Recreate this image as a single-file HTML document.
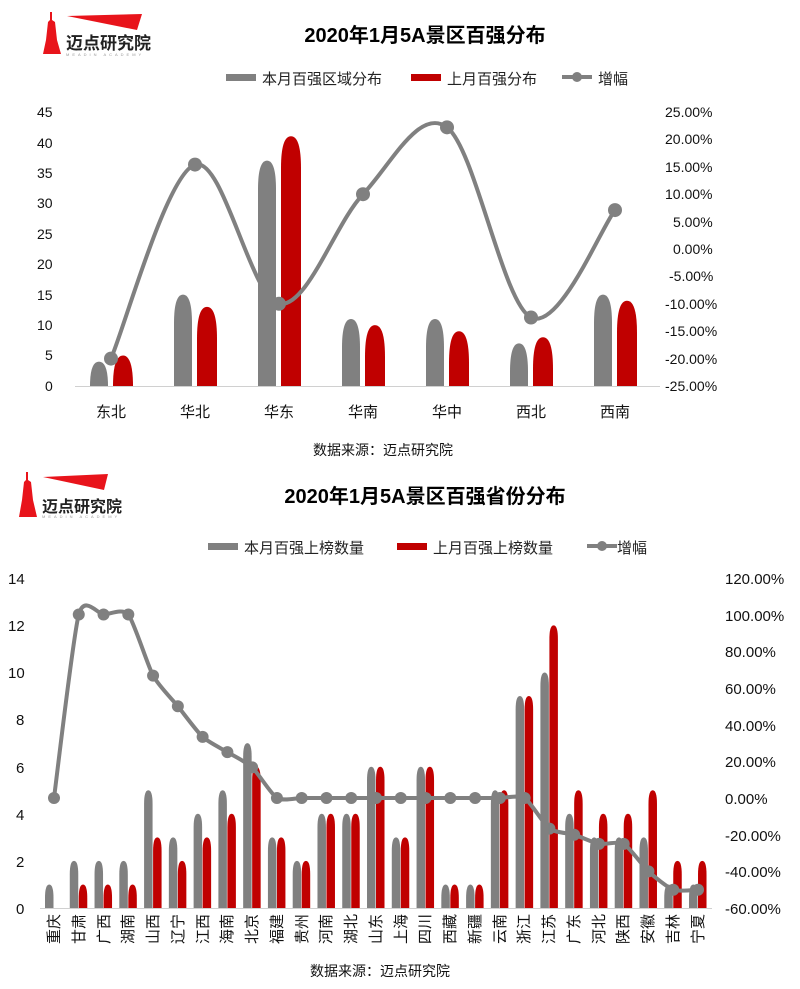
<!DOCTYPE html>
<html><head><meta charset="utf-8">
<style>
body{margin:0;background:#fff;}
svg{display:block;font-family:"Liberation Sans","Noto Sans CJK SC",sans-serif;}
</style></head><body>
<svg id="s" width="800" height="989" viewBox="0 0 800 989" xmlns="http://www.w3.org/2000/svg">
<g>
<polygon points="50,12 52,12 52,20 55,22 57,40 61,54 43,54 46,40 48,22 50,20" fill="#e8141b"/>
<polygon points="67,16 142,14 137,30" fill="#e8141b"/>
<text x="66" y="49" font-size="17" font-weight="bold" fill="#222">迈点研究院</text>
<text x="66" y="56" font-size="4" fill="#999" letter-spacing="3">MEADIN ACADEMY</text>
</g>
<g>
<polygon points="26,472 28,472 28,480 31,482 33,500 37,517 19,517 22,500 24,482 26,480" fill="#e8141b"/>
<polygon points="43,477 108,474 104,490" fill="#e8141b"/>
<text x="42" y="512" font-size="16" font-weight="bold" fill="#222">迈点研究院</text>
<text x="42" y="518" font-size="4" fill="#999" letter-spacing="3">MEADIN ACADEMY</text>
</g>
<text x="425" y="42" font-size="20" font-weight="bold" text-anchor="middle" fill="#000">2020年1月5A景区百强分布</text>
<text x="425" y="503" font-size="20" font-weight="bold" text-anchor="middle" fill="#000">2020年1月5A景区百强省份分布</text>
<rect x="226" y="74" width="30" height="7" fill="#808080"/><text x="262" y="84" font-size="15" fill="#222">本月百强区域分布</text>
<rect x="411" y="74" width="30" height="7" fill="#c00000"/><text x="447" y="84" font-size="15" fill="#222">上月百强分布</text>
<line x1="562" y1="77" x2="592" y2="77" stroke="#808080" stroke-width="4"/><circle cx="577" cy="77" r="5" fill="#808080"/><text x="598" y="84" font-size="15" fill="#222">增幅</text>
<rect x="208" y="543" width="30" height="7" fill="#808080"/><text x="244" y="553" font-size="15" fill="#222">本月百强上榜数量</text>
<rect x="397" y="543" width="30" height="7" fill="#c00000"/><text x="433" y="553" font-size="15" fill="#222">上月百强上榜数量</text>
<line x1="587" y1="546" x2="617" y2="546" stroke="#808080" stroke-width="4"/><circle cx="602" cy="546" r="5" fill="#808080"/><text x="617" y="553" font-size="15" fill="#222">增幅</text>
<g font-size="14" fill="#111">
<text x="37" y="117">45</text><text x="37" y="148">40</text><text x="37" y="178">35</text><text x="37" y="208">30</text><text x="37" y="239">25</text><text x="37" y="269">20</text><text x="37" y="300">15</text><text x="37" y="330">10</text><text x="45" y="360">5</text><text x="45" y="391">0</text>
<text x="665" y="117">25.00%</text><text x="665" y="144">20.00%</text><text x="665" y="172">15.00%</text><text x="665" y="199">10.00%</text><text x="673" y="227">5.00%</text><text x="673" y="254">0.00%</text><text x="669" y="281">-5.00%</text><text x="665" y="309">-10.00%</text><text x="665" y="336">-15.00%</text><text x="665" y="364">-20.00%</text><text x="665" y="391">-25.00%</text>
</g>
<g font-size="15" fill="#111" text-anchor="middle">
<text x="111" y="417">东北</text><text x="195" y="417">华北</text><text x="279" y="417">华东</text><text x="363" y="417">华南</text><text x="447" y="417">华中</text><text x="531" y="417">西北</text><text x="615" y="417">西南</text>
</g>
<text x="383" y="455" font-size="14" fill="#111" text-anchor="middle">数据来源：迈点研究院</text>
<line x1="75" y1="386.5" x2="660" y2="386.5" stroke="#d0d0d0" stroke-width="1"/>
<g font-size="15" fill="#111">
<text x="8" y="584">14</text><text x="8" y="631">12</text><text x="8" y="678">10</text><text x="16" y="725">8</text><text x="16" y="773">6</text><text x="16" y="820">4</text><text x="16" y="867">2</text><text x="16" y="914">0</text>
<text x="725" y="584">120.00%</text><text x="725" y="621">100.00%</text><text x="725" y="657">80.00%</text><text x="725" y="694">60.00%</text><text x="725" y="731">40.00%</text><text x="725" y="767">20.00%</text><text x="725" y="804">0.00%</text><text x="725" y="841">-20.00%</text><text x="725" y="877">-40.00%</text><text x="725" y="914">-60.00%</text>
</g>
<g font-size="15" fill="#111" text-anchor="end">
<text transform="translate(59,914) rotate(-90)">重庆</text><text transform="translate(84,914) rotate(-90)">甘肃</text><text transform="translate(109,914) rotate(-90)">广西</text><text transform="translate(133,914) rotate(-90)">湖南</text><text transform="translate(158,914) rotate(-90)">山西</text><text transform="translate(183,914) rotate(-90)">辽宁</text><text transform="translate(208,914) rotate(-90)">江西</text><text transform="translate(232,914) rotate(-90)">海南</text><text transform="translate(257,914) rotate(-90)">北京</text><text transform="translate(282,914) rotate(-90)">福建</text><text transform="translate(307,914) rotate(-90)">贵州</text><text transform="translate(331,914) rotate(-90)">河南</text><text transform="translate(356,914) rotate(-90)">湖北</text><text transform="translate(381,914) rotate(-90)">山东</text><text transform="translate(406,914) rotate(-90)">上海</text><text transform="translate(430,914) rotate(-90)">四川</text><text transform="translate(455,914) rotate(-90)">西藏</text><text transform="translate(480,914) rotate(-90)">新疆</text><text transform="translate(505,914) rotate(-90)">云南</text><text transform="translate(529,914) rotate(-90)">浙江</text><text transform="translate(554,914) rotate(-90)">江苏</text><text transform="translate(579,914) rotate(-90)">广东</text><text transform="translate(604,914) rotate(-90)">河北</text><text transform="translate(628,914) rotate(-90)">陕西</text><text transform="translate(653,914) rotate(-90)">安徽</text><text transform="translate(678,914) rotate(-90)">吉林</text><text transform="translate(703,914) rotate(-90)">宁夏</text>
</g>
<text x="380" y="976" font-size="14" fill="#111" text-anchor="middle">数据来源：迈点研究院</text>
<line x1="40" y1="908.5" x2="712" y2="908.5" stroke="#d0d0d0" stroke-width="1"/>
<g id="dyn"></g>
</svg>
<script>
var NS="http://www.w3.org/2000/svg",g=document.getElementById("dyn");
function el(t,a){var e=document.createElementNS(NS,t);for(var k in a)e.setAttribute(k,a[k]);g.appendChild(e);return e;}
function bar(x,w,base,top,col){if(base-top<1)return;var h=Math.min(w*1.6,base-top);
el("path",{d:"M"+x+","+base+"V"+(top+h)+"Q"+x+","+top+" "+(x+w/2)+","+top+"Q"+(x+w)+","+top+" "+(x+w)+","+(top+h)+"V"+base+"Z",fill:col});}
function smooth(p,t){var d="M"+p[0][0]+","+p[0][1];for(var i=0;i<p.length-1;i++){var a=p[i-1]||p[i],b=p[i],c=p[i+1],e=p[i+2]||c;
d+="C"+(b[0]+(c[0]-a[0])*t)+","+(b[1]+(c[1]-a[1])*t)+" "+(c[0]-(e[0]-b[0])*t)+","+(c[1]-(e[1]-b[1])*t)+" "+c[0]+","+c[1];}return d;}
var tg=[4,15,37,11,11,7,15],tr=[5,13,41,10,9,8,14],tp=[-20,15.4,-10,10,22.2,-12.5,7.1],pts=[];
for(var i=0;i<7;i++){var c=111+84*i;bar(c-21,18,386,386-tg[i]*6.09,"#808080");bar(c+2,20,386,386-tr[i]*6.09,"#c00000");pts.push([c,249-tp[i]*5.48]);}
el("path",{d:smooth(pts,1/6),fill:"none",stroke:"#808080","stroke-width":4});
pts.forEach(function(p){el("circle",{cx:p[0],cy:p[1],r:7,fill:"#808080"});});
var bg=[1,2,2,2,5,3,4,5,7,3,2,4,4,6,3,6,1,1,5,9,10,4,3,3,3,1,1],
br=[0,1,1,1,3,2,3,4,6,3,2,4,4,6,3,6,1,1,5,9,12,5,4,4,5,2,2],
bp=[0,100,100,100,66.7,50,33.3,25,16.7,0,0,0,0,0,0,0,0,0,0,0,-16.7,-20,-25,-25,-40,-50,-50];pts=[];
for(i=0;i<27;i++){c=54+24.77*i;bar(c-9,8.5,908,908-bg[i]*23.55,"#808080");bar(c,8.5,908,908-br[i]*23.55,"#c00000");pts.push([c,798-bp[i]*1.835]);}
el("path",{d:smooth(pts,1/9),fill:"none",stroke:"#808080","stroke-width":4});
pts.forEach(function(p){el("circle",{cx:p[0],cy:p[1],r:6,fill:"#808080"});});
</script>
</body></html>
